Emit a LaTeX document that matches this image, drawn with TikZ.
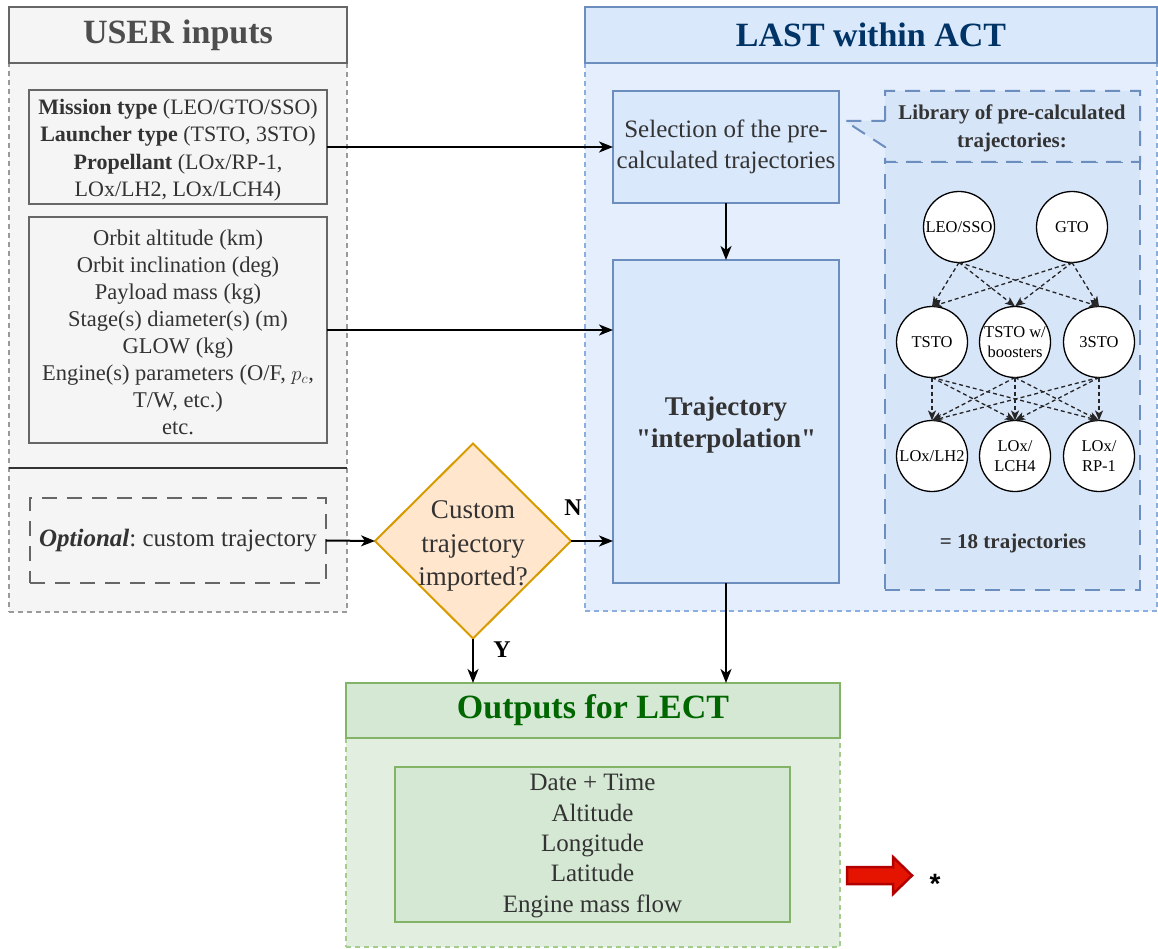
\documentclass[tikz,border=0pt]{standalone}
\usepackage{fontspec}
\setmainfont{Liberation Serif}[Ligatures=TeXOff]
\newfontfamily\starfont{Liberation Sans}
\usetikzlibrary{shapes.geometric,arrows.meta}

\definecolor{txt}{HTML}{333333}
\definecolor{grayfill}{HTML}{F5F5F5}
\definecolor{grayline}{HTML}{666666}
\definecolor{graydash}{HTML}{9A9A9A}
\definecolor{bluefill}{HTML}{DAE8FC}
\definecolor{blueline}{HTML}{6C8EBF}
\definecolor{bluepale}{HTML}{E4EEFC}
\definecolor{bluedash}{HTML}{8CAEDF}
\definecolor{libfill}{HTML}{D7E5F9}
\definecolor{greenfill}{HTML}{D5E8D4}
\definecolor{greenline}{HTML}{82B366}
\definecolor{greenpale}{HTML}{E2EEE0}
\definecolor{greendash}{HTML}{A3CC8D}
\definecolor{orangefill}{HTML}{FFE6CC}
\definecolor{orangeline}{HTML}{D79B00}
\definecolor{titlegray}{HTML}{4D4D4D}
\definecolor{titleblue}{HTML}{003366}
\definecolor{titlegreen}{HTML}{006600}
\definecolor{redfill}{HTML}{E51400}
\definecolor{redline}{HTML}{B20000}

\newcommand{\fs}[2]{\fontsize{#1}{#2}\selectfont}
\frenchspacing

\begin{document}
\begin{tikzpicture}[x=1pt,y=-1pt,
  box/.style={inner sep=0pt, outer sep=0pt, align=center, text=txt, anchor=north west},
  pane/.style={box, line width=1.5pt, dash pattern=on 5pt off 4pt},
  solidbox/.style={box, line width=2pt},
  titlefont/.style={font=\fs{34}{40}\bfseries},
  orb/.style={circle, draw=black, fill=white, line width=1.3pt, minimum size=71pt,
    inner sep=0pt, outer sep=0pt, align=center, text=black, font=\fs{16.5}{20}},
  flow/.style={-{Stealth[length=14pt,width=11pt,inset=4pt]}, line width=2pt, black},
  libflow/.style={-{Stealth[length=10pt,width=8pt,inset=2.5pt]}, line width=1.3pt,
    dash pattern=on 4pt off 3pt, black!85},
  longdash/.style={dash pattern=on 15pt off 10pt},
  tag/.style={font=\fs{24}{24}\bfseries, text=black, inner sep=0pt},
  label text/.style={inner sep=0pt, align=center, text=txt}
]
\useasboundingbox (0,0) rectangle (1158,949);

% ---------- USER inputs ----------
\node[pane, draw=graydash, fill=grayfill, minimum width=338pt, minimum height=549pt] (userpane) at (9,63) {};
\node[solidbox, draw=grayline, fill=grayfill, minimum width=338pt, minimum height=56pt,
  titlefont, text=titlegray] (usertitle) at (9,7) {USER inputs};

\node[solidbox, draw=grayline, fill=grayfill, minimum width=298pt, minimum height=114pt] (mission) at (29,90) {};
\node[label text, font=\fs{22}{27.5}] (missiontext) at (178,150)
  {\textbf{Mission type} (LEO/GTO/SSO)\\\textbf{Launcher type} (TSTO, 3STO)\\
   \textbf{Propellant} (LOx/RP-1,\\LOx/LH2, LOx/LCH4)};

\node[solidbox, draw=grayline, fill=grayfill, minimum width=298pt, minimum height=226pt] (params) at (29,217) {};
\node[label text, font=\fs{22.5}{27}] (paramstext) at (178,332)
  {Orbit altitude (km)\\Orbit inclination (deg)\\Payload mass (kg)\\
   Stage(s) diameter(s) (m)\\GLOW (kg)\\Engine(s) parameters (O/F, $p_c$,\\
   T/W, etc.)\\etc.};

\coordinate (sepL) at (9,468);
\coordinate (sepR) at (347,468);
\draw[line width=1.5pt, txt] (sepL) -- (sepR);

\node[solidbox, draw=grayline, fill=grayfill, longdash, minimum width=296pt, minimum height=85pt,
  font=\fs{25}{30}] (optional) at (30,498)
  {\textbf{\textit{Optional}}: custom trajectory};

% ---------- LAST within ACT ----------
\node[pane, draw=bluedash, fill=bluepale, minimum width=572pt, minimum height=548pt] (lastpane) at (585,63) {};
\node[solidbox, draw=blueline, fill=bluefill, minimum width=572pt, minimum height=56pt,
  titlefont, text=titleblue] (lasttitle) at (585,7) {LAST within ACT};

\node[solidbox, draw=blueline, fill=bluefill, minimum width=226pt, minimum height=112pt,
  font=\fs{25}{31}] (select) at (613,91)
  {Selection of the pre-\\calculated trajectories};

\node[solidbox, draw=blueline, fill=bluefill, minimum width=226pt, minimum height=323pt] (interp) at (613,260) {};
\node[label text, font=\fs{27}{32.5}\bfseries] (interptext) at (726,425)
  {Trajectory\\"interpolation"};

% library of pre-calculated trajectories
\node[box, draw=blueline, fill=libfill, line width=2pt, longdash,
  minimum width=255pt, minimum height=428pt] (library) at (885,162) {};
\draw[draw=blueline, fill=libfill, line width=2pt, longdash]
  (885,121) -- (885,91) -- (1140,91) -- (1140,162) -- (885,162) -- (885,147)
  -- (845,121) -- cycle;
\node[label text, font=\fs{21}{28}\bfseries] (libhead)
  at (1012,128) {Library of pre-calculated\\trajectories:};

\node[orb] (leo)   at (959,227) {LEO/SSO};
\node[orb] (gto)   at (1072,227) {GTO};
\node[orb] (tsto)  at (932,342) {TSTO};
\node[orb] (tstob) at (1015,342) {TSTO w/\\boosters};
\node[orb] (three) at (1099,342) {3STO};
\node[orb] (lh2)   at (932,456) {LOx/LH2};
\node[orb] (lch4)  at (1015,456) {LOx/\\LCH4};
\node[orb] (rp1)   at (1099,456) {LOx/\\RP-1};

\foreach \s in {leo,gto}
  \foreach \t in {tsto,tstob,three}
    \draw[libflow] (\s.south) -- (\t.north);
\foreach \s in {tsto,tstob,three}
  \foreach \t in {lh2,lch4,rp1}
    \draw[libflow] (\s.south) -- (\t.north);

\node[label text, font=\fs{21}{24}\bfseries] (count) at (1013,543) {= 18 trajectories};

% ---------- decision ----------
\node[diamond, draw=orangeline, fill=orangefill, line width=2pt, aspect=1,
  minimum width=196pt, minimum height=195pt, inner sep=0pt, outer sep=0pt] (decide) at (473,541) {};
\node[label text, font=\fs{27}{33.5}] (decidetext)
  at (473,546) {Custom\\trajectory\\imported?};

% ---------- Outputs for LECT ----------
\node[pane, draw=greendash, fill=greenpale, minimum width=494pt, minimum height=209pt] (outpane) at (346,738) {};
\node[solidbox, draw=greenline, fill=greenfill, minimum width=494pt, minimum height=55pt,
  titlefont, text=titlegreen] (outtitle) at (346,683) {Outputs for LECT};
\node[solidbox, draw=greenline, fill=greenfill, minimum width=395pt, minimum height=155pt] (outlist) at (395,767) {};
\node[label text, font=\fs{25}{30.3}] (outlisttext) at (592.5,846)
  {Date + Time\\Altitude\\Longitude\\Latitude\\Engine mass flow};

% ---------- connectors ----------
\draw[flow] (mission.east) -- (select.west);
\draw[flow] (params.east) -- (interp.west |- params.east);
\draw[flow] (optional.east) -- (decide.west);
\draw[flow] (decide.east) -- (interp.west |- decide.east);
\draw[flow] (decide.south) -- (outtitle.north -| decide.south);
\draw[flow] (select.south) -- (interp.north);
\draw[flow] (interp.south) -- (outtitle.north -| interp.south);

\node[tag] (tagN) at (573,508) {N};
\node[tag] (tagY) at (502,650) {Y};

% ---------- export marker ----------
\draw[draw=redline, fill=redfill, line width=2.5pt, line join=miter]
  (847,867) -- (893,867) -- (893,857) -- (912,875.5) -- (893,894) -- (893,884)
  -- (847,884) -- cycle;
\node[font=\starfont\fs{28}{28}\bfseries, text=black, inner sep=0pt] (star) at (935,884) {*};
\end{tikzpicture}
\end{document}
